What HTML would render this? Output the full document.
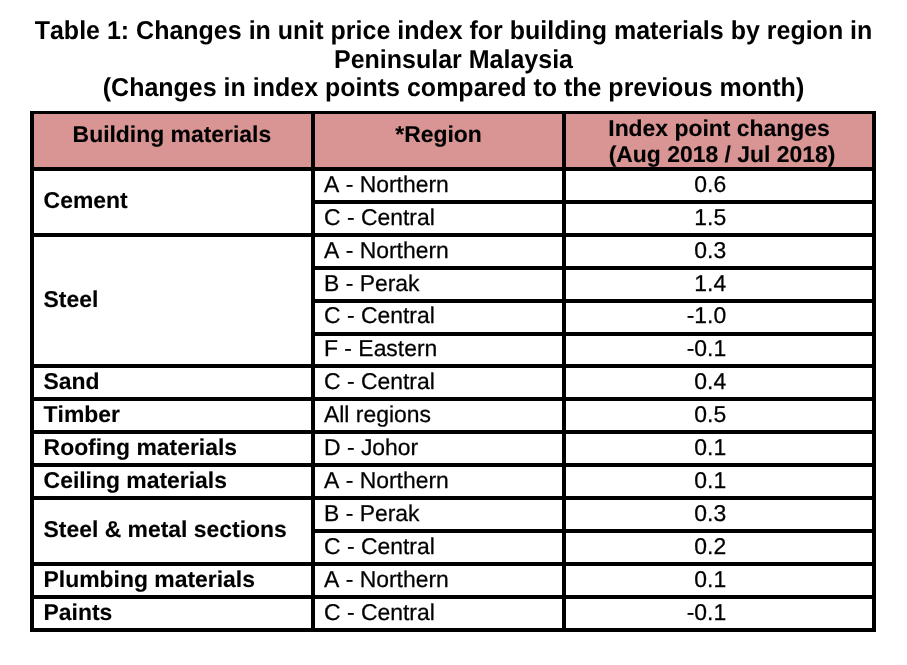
<!DOCTYPE html>
<html><head><meta charset="utf-8"><title>Table 1</title>
<style>
html,body{margin:0;padding:0;background:#fff;}
body{width:907px;height:665px;position:relative;overflow:hidden;font-kerning:none;font-family:"Liberation Sans",Arial,sans-serif;color:#000;}
.t{position:absolute;left:0;width:907px;text-align:center;font-weight:bold;font-size:25px;line-height:29px;white-space:nowrap;text-rendering:geometricPrecision;transform:scaleY(1.035);transform-origin:0 23.16px;}
.ln{position:absolute;background:#000;}
.hd{position:absolute;background:#d99594;}
.c{position:absolute;font-size:22.92px;line-height:26px;white-space:nowrap;text-rendering:geometricPrecision;}
.n{-webkit-text-stroke:0.25px #000;text-rendering:geometricPrecision;}
.b{font-weight:bold;-webkit-text-stroke:0.12px #000;}
.ctr{text-align:center;}
.r{text-align:right;}
</style></head><body>

<div class="t" style="top:16.65px;left:0px">Table 1: Changes in unit price index for building materials by region in</div>
<div class="t" style="top:46.0px;left:0px">Peninsular Malaysia</div>
<div class="t" style="top:73.85px;left:0px">(Changes in index points compared to the previous month)</div>
<div class="hd" style="left:30px;top:111px;width:846px;height:58px"></div>
<div class="ln" style="left:30px;top:111px;width:4px;height:521px"></div>
<div class="ln" style="left:311px;top:111px;width:4px;height:521px"></div>
<div class="ln" style="left:562px;top:111px;width:4px;height:521px"></div>
<div class="ln" style="left:872px;top:111px;width:4px;height:521px"></div>
<div class="ln" style="left:30px;top:111px;width:846px;height:3px"></div>
<div class="ln" style="left:30px;top:167px;width:846px;height:4px"></div>
<div class="ln" style="left:311px;top:200px;width:565px;height:4px"></div>
<div class="ln" style="left:30px;top:233px;width:846px;height:4px"></div>
<div class="ln" style="left:311px;top:266px;width:565px;height:4px"></div>
<div class="ln" style="left:311px;top:299px;width:565px;height:4px"></div>
<div class="ln" style="left:311px;top:332px;width:565px;height:4px"></div>
<div class="ln" style="left:30px;top:364px;width:846px;height:4px"></div>
<div class="ln" style="left:30px;top:397px;width:846px;height:4px"></div>
<div class="ln" style="left:30px;top:430px;width:846px;height:4px"></div>
<div class="ln" style="left:30px;top:463px;width:846px;height:4px"></div>
<div class="ln" style="left:30px;top:496px;width:846px;height:4px"></div>
<div class="ln" style="left:311px;top:529px;width:565px;height:4px"></div>
<div class="ln" style="left:30px;top:562px;width:846px;height:4px"></div>
<div class="ln" style="left:30px;top:595px;width:846px;height:4px"></div>
<div class="ln" style="left:30px;top:628px;width:846px;height:4px"></div>
<div class="c b ctr" style="left:33.4px;width:277px;top:121.40px">Building materials</div>
<div class="c b ctr" style="left:315px;width:247px;top:121.40px">*Region</div>
<div class="c b ctr" style="left:566px;width:306px;top:115.20px">Index point changes</div>
<div class="c b ctr" style="left:569px;width:306px;top:141.20px">(Aug 2018 / Jul 2018)</div>
<div class="c n" style="left:324px;width:230px;top:170.86px">A - Northern</div>
<div class="c r n" style="left:566px;width:160.2px;top:170.86px">0.6</div>
<div class="c n" style="left:324px;width:230px;top:203.76px">C - Central</div>
<div class="c r n" style="left:566px;width:160.2px;top:203.76px">1.5</div>
<div class="c n" style="left:324px;width:230px;top:236.66px">A - Northern</div>
<div class="c r n" style="left:566px;width:160.2px;top:236.66px">0.3</div>
<div class="c n" style="left:324px;width:230px;top:269.56px">B - Perak</div>
<div class="c r n" style="left:566px;width:160.2px;top:269.56px">1.4</div>
<div class="c n" style="left:324px;width:230px;top:302.46px">C - Central</div>
<div class="c r n" style="left:566px;width:160.2px;top:302.46px">-1.0</div>
<div class="c n" style="left:324px;width:230px;top:335.36px">F - Eastern</div>
<div class="c r n" style="left:566px;width:160.2px;top:335.36px">-0.1</div>
<div class="c n" style="left:324px;width:230px;top:368.26px">C - Central</div>
<div class="c r n" style="left:566px;width:160.2px;top:368.26px">0.4</div>
<div class="c n" style="left:324px;width:230px;top:401.16px">All regions</div>
<div class="c r n" style="left:566px;width:160.2px;top:401.16px">0.5</div>
<div class="c n" style="left:324px;width:230px;top:434.06px">D - Johor</div>
<div class="c r n" style="left:566px;width:160.2px;top:434.06px">0.1</div>
<div class="c n" style="left:324px;width:230px;top:466.96px">A - Northern</div>
<div class="c r n" style="left:566px;width:160.2px;top:466.96px">0.1</div>
<div class="c n" style="left:324px;width:230px;top:499.86px">B - Perak</div>
<div class="c r n" style="left:566px;width:160.2px;top:499.86px">0.3</div>
<div class="c n" style="left:324px;width:230px;top:532.76px">C - Central</div>
<div class="c r n" style="left:566px;width:160.2px;top:532.76px">0.2</div>
<div class="c n" style="left:324px;width:230px;top:565.66px">A - Northern</div>
<div class="c r n" style="left:566px;width:160.2px;top:565.66px">0.1</div>
<div class="c n" style="left:324px;width:230px;top:598.56px">C - Central</div>
<div class="c r n" style="left:566px;width:160.2px;top:598.56px">-0.1</div>
<div class="c b" style="left:43.6px;width:260px;top:187.31px">Cement</div>
<div class="c b" style="left:43.6px;width:260px;top:286.01px">Steel</div>
<div class="c b" style="left:43.6px;width:260px;top:368.26px">Sand</div>
<div class="c b" style="left:43.6px;width:260px;top:401.16px">Timber</div>
<div class="c b" style="left:43.6px;width:260px;top:434.06px">Roofing materials</div>
<div class="c b" style="left:43.6px;width:260px;top:466.96px">Ceiling materials</div>
<div class="c b" style="left:43.6px;width:260px;top:516.31px">Steel &amp; metal sections</div>
<div class="c b" style="left:43.6px;width:260px;top:565.66px">Plumbing materials</div>
<div class="c b" style="left:43.6px;width:260px;top:598.56px">Paints</div>
</body></html>
